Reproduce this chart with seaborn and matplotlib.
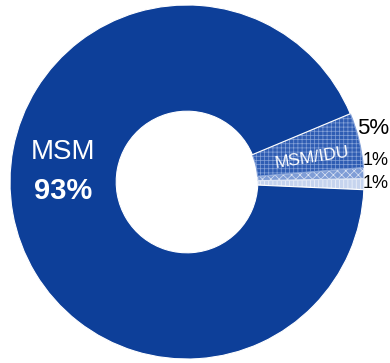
import matplotlib
matplotlib.use("Agg")
import matplotlib.pyplot as plt
import seaborn as sns

sns.set_theme(style="white")
plt.rcParams["font.family"] = ["Liberation Sans", "DejaVu Sans"]
plt.rcParams["hatch.linewidth"] = 0.5

# Share of cases by transmission group (counter-clockwise from the right)
groups = ["Other A", "Other B", "MSM/IDU", "MSM"]
shares = [1, 1, 5, 93]
face_colors = ["#C6D4EE", "#7F9DD6", "#2F5DB3", "#0D3F99"]
hatch_colors = ["#F2F5FB", "#DCE4F4", "#86A3D9", None]
hatches = ["||||", "xxxx", "++++", None]

fig = plt.figure(figsize=(3.90, 3.63), dpi=100)
ax = fig.add_axes([0, 0, 1, 1])

wedges, _ = ax.pie(shares, startangle=-2.5, counterclock=True,
                   colors=face_colors, radius=1.0,
                   wedgeprops=dict(width=0.6, edgecolor="white", linewidth=0.8))
for w, h, hc in zip(wedges, hatches, hatch_colors):
    if h:
        w.set_hatch(h)
        w.set_edgecolor(hc)

ax.set_xlim(-187 / 177, (390 - 187) / 177)
ax.set_ylim(-(363 - 182) / 177, 182 / 177)
ax.set_aspect("equal")
ax.axis("off")

# In-ring labels
ax.text(-0.70, 0.17, "MSM", color="white", fontsize=20, ha="center", va="center")
ax.text(-0.70, -0.05, f"{shares[3]}%", color="white", fontsize=21,
        fontweight="semibold", ha="center", va="center")
ax.text(0.705, 0.14, groups[2], color="white", fontsize=12.5, ha="center",
        va="center", rotation=9)

# Outside percentage labels
ax.text(0.96, 0.30, f"{shares[2]}%", color="black", fontsize=16, ha="left", va="center")
ax.text(0.99, 0.12, f"{shares[1]}%", color="black", fontsize=13, ha="left", va="center")
ax.text(0.99, -0.01, f"{shares[0]}%", color="black", fontsize=13, ha="left", va="center")

fig.savefig("out.png", dpi=100)
